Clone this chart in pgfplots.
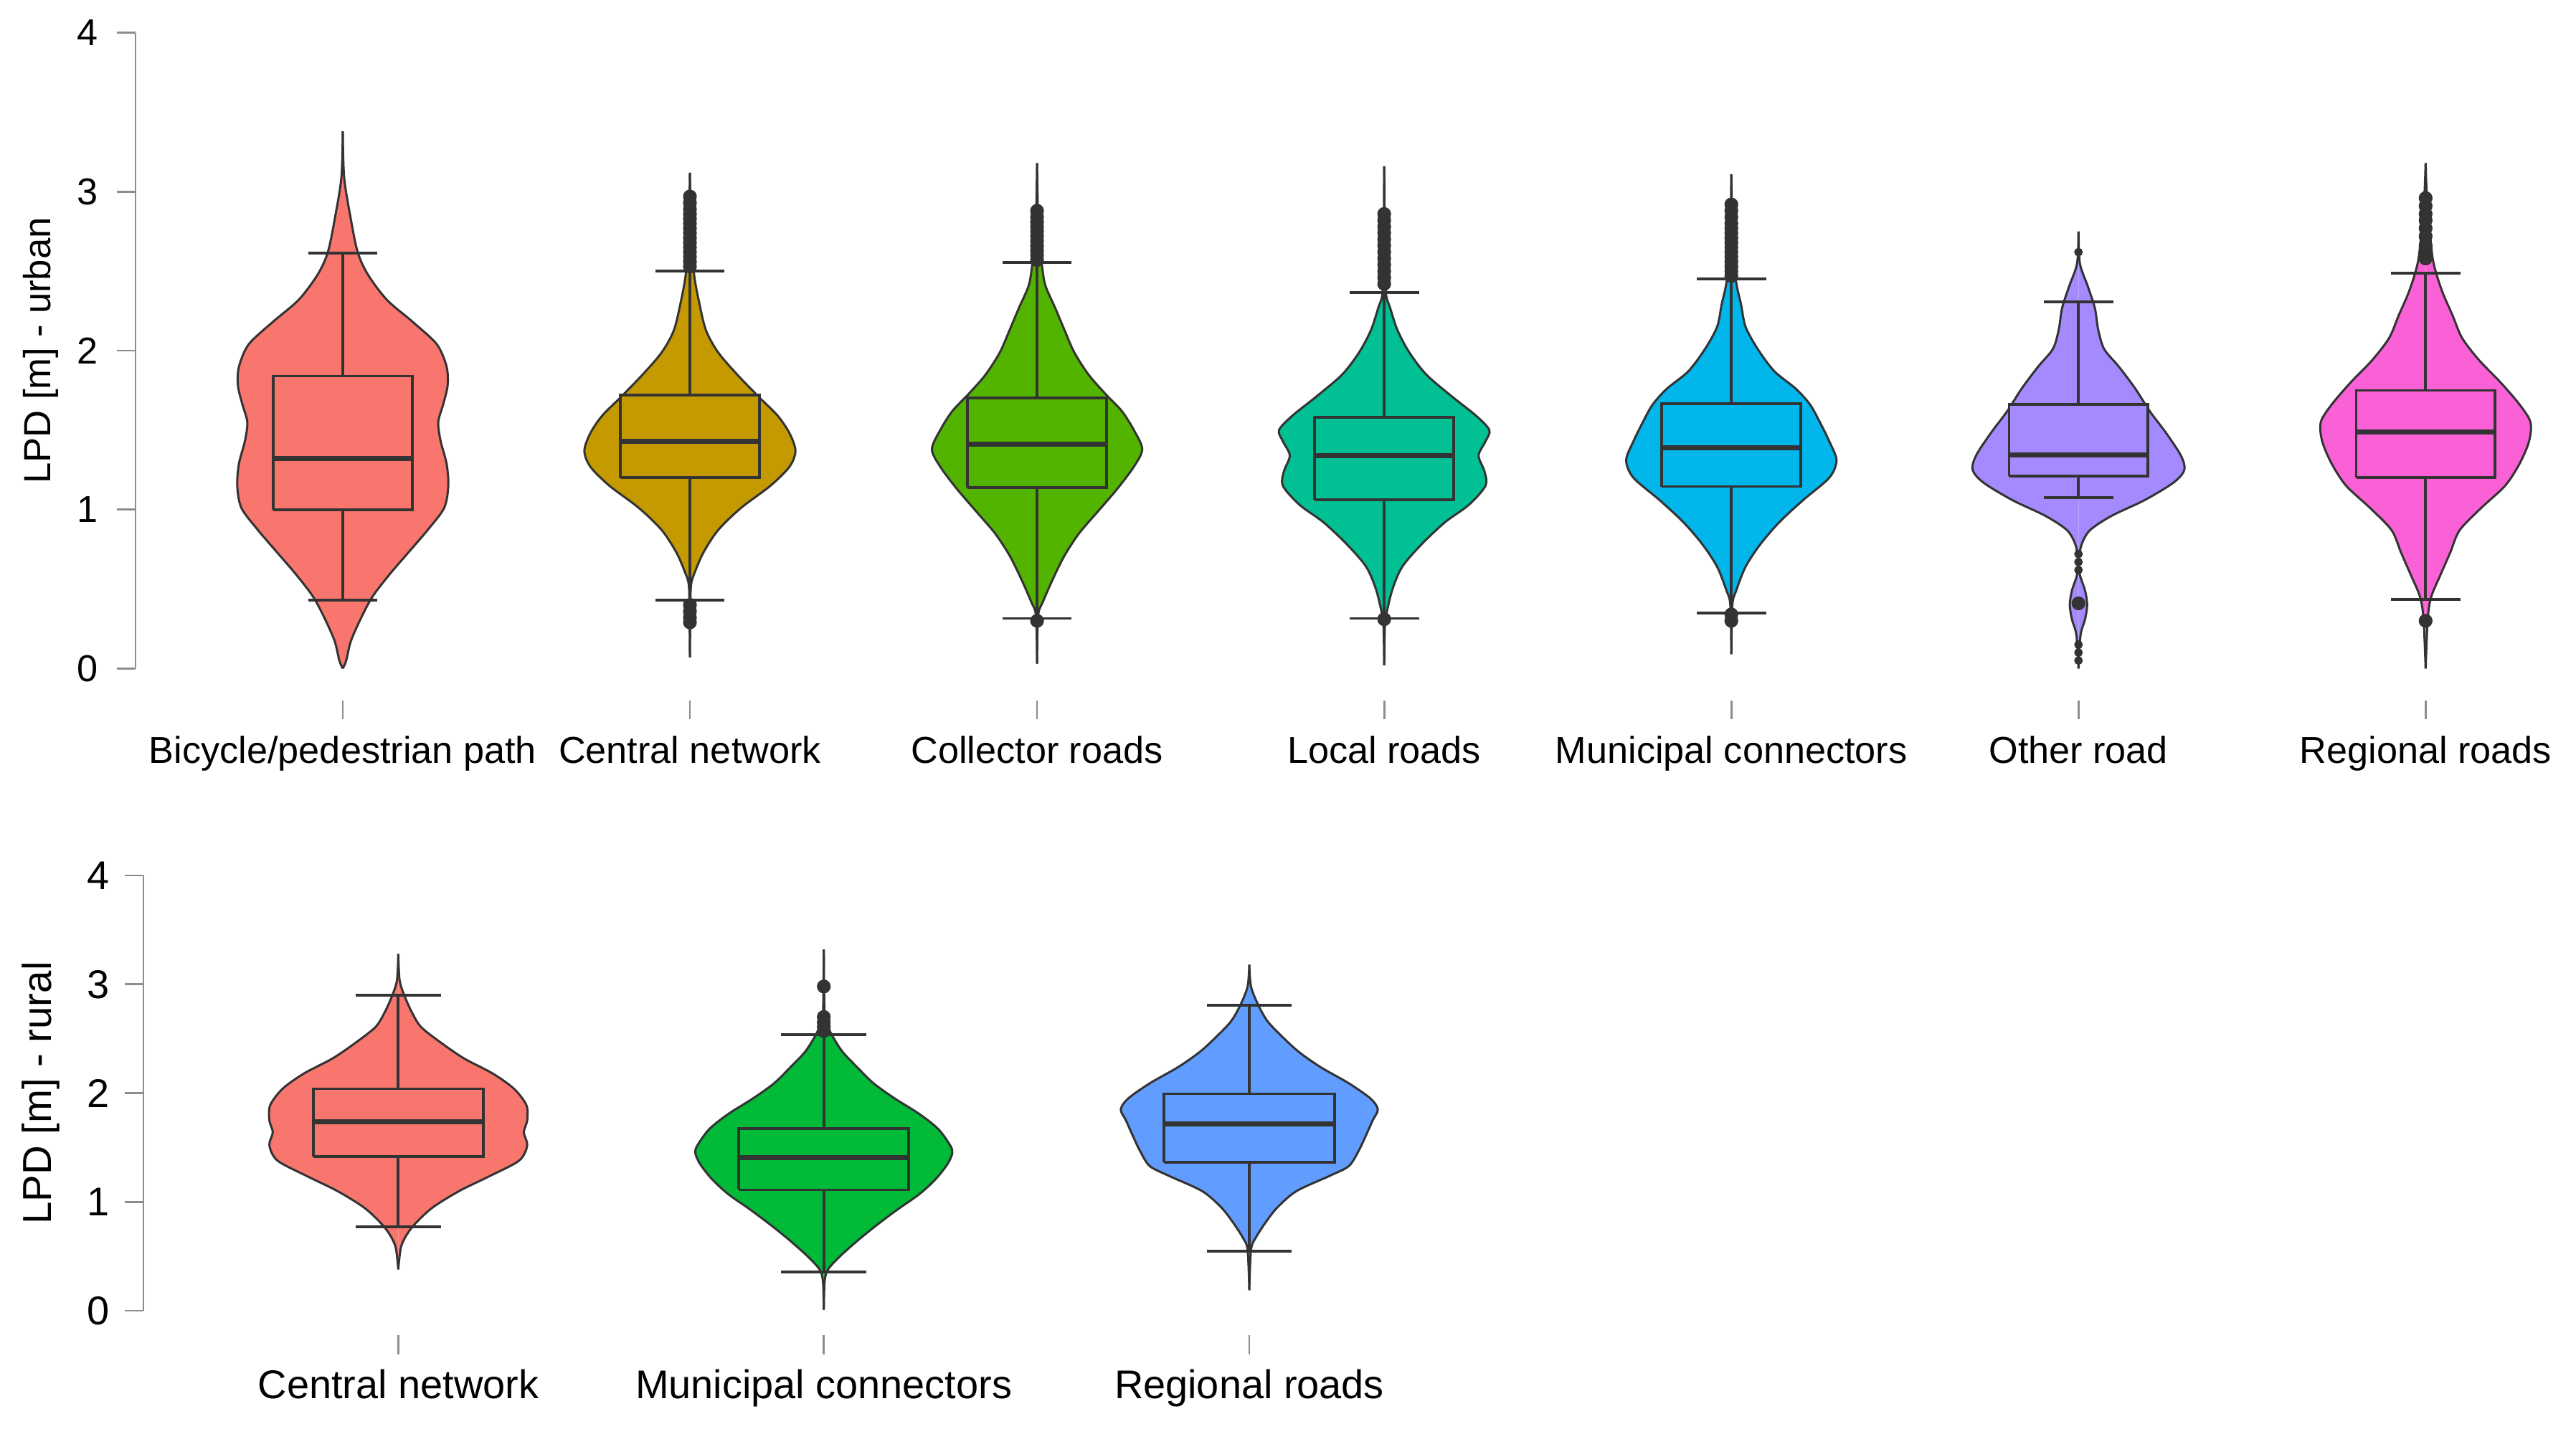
\documentclass[border=0pt]{standalone}
\usepackage{fontspec}
\setmainfont{Liberation Sans}
\usepackage{pgfplots}
\usepackage{pgfplotstable}
\pgfplotsset{compat=1.18}

\definecolor{cA}{HTML}{F8766D}
\definecolor{cB}{HTML}{C49A00}
\definecolor{cC}{HTML}{53B400}
\definecolor{cD}{HTML}{00C094}
\definecolor{cE}{HTML}{00B6EB}
\definecolor{cF}{HTML}{A58AFF}
\definecolor{cG}{HTML}{FB61D7}
\definecolor{cH}{HTML}{F8766D}
\definecolor{cI}{HTML}{00BA38}
\definecolor{cJ}{HTML}{619CFF}
\colorlet{vout}{black!80}
\colorlet{axgray}{black!45}

% violin profiles: v = LPD value, w = half width (in category units)
\pgfplotstableread{
v w
0.00 0
0.05 0.010
0.17 0.023
0.31 0.051
0.45 0.085
0.59 0.134
0.73 0.189
0.87 0.244
1.01 0.292
1.15 0.304
1.29 0.299
1.43 0.282
1.55 0.275
1.66 0.289
1.78 0.302
1.90 0.299
2.04 0.271
2.18 0.202
2.32 0.127
2.48 0.072
2.62 0.043
2.83 0.023
3.09 0.004
3.38 0
}\vA
\pgfplotstableread{
v w
0.07 0
0.30 0.001
0.52 0.003
0.61 0.015
0.73 0.039
0.87 0.081
1.01 0.147
1.15 0.232
1.27 0.287
1.37 0.304
1.48 0.287
1.59 0.253
1.71 0.198
1.85 0.136
1.99 0.081
2.13 0.046
2.32 0.025
2.48 0.012
2.70 0.004
3.12 0
}\vB
\pgfplotstableread{
v w
0.03 0
0.33 0.003
0.42 0.017
0.56 0.045
0.71 0.079
0.85 0.121
0.99 0.176
1.13 0.231
1.27 0.279
1.38 0.303
1.50 0.279
1.62 0.244
1.73 0.196
1.85 0.148
1.99 0.107
2.13 0.079
2.27 0.052
2.41 0.024
2.54 0.014
2.75 0.004
3.18 0
}\vC
\pgfplotstableread{
v w
0.02 0
0.26 0.002
0.35 0.007
0.50 0.024
0.64 0.052
0.78 0.107
0.92 0.175
1.03 0.244
1.15 0.292
1.24 0.289
1.34 0.272
1.43 0.292
1.50 0.303
1.59 0.265
1.71 0.196
1.85 0.121
1.99 0.072
2.13 0.038
2.27 0.017
2.36 0.005
2.60 0.002
3.16 0
}\vD
\pgfplotstableread{
v w
0.09 0
0.40 0.003
0.49 0.014
0.64 0.041
0.78 0.083
0.92 0.138
1.06 0.207
1.20 0.282
1.31 0.303
1.43 0.282
1.55 0.255
1.66 0.227
1.76 0.186
1.87 0.124
2.01 0.076
2.15 0.041
2.29 0.028
2.43 0.014
2.65 0.004
3.11 0
}\vE
\pgfplotstableread{
v w
0.00 0
0.21 0.006
0.31 0.019
0.40 0.025
0.49 0.019
0.59 0.004
0.68 0.001
0.78 0.009
0.87 0.033
0.96 0.095
1.06 0.191
1.17 0.274
1.25 0.305
1.34 0.295
1.48 0.253
1.62 0.205
1.76 0.164
1.90 0.116
2.01 0.074
2.13 0.057
2.27 0.047
2.41 0.026
2.55 0.004
2.75 0
}\vF
\pgfplotstableread{
v w
0.00 0
0.31 0.006
0.45 0.016
0.59 0.043
0.73 0.071
0.87 0.098
1.01 0.160
1.15 0.229
1.29 0.271
1.43 0.298
1.55 0.302
1.66 0.271
1.80 0.216
1.94 0.154
2.08 0.105
2.22 0.078
2.36 0.050
2.49 0.030
2.60 0.019
2.83 0.009
3.00 0.003
3.18 0
}\vG
\pgfplotstableread{
v w
0.38 0
0.58 0.006
0.70 0.020
0.81 0.042
0.95 0.081
1.10 0.143
1.24 0.216
1.38 0.284
1.52 0.303
1.64 0.295
1.75 0.303
1.89 0.301
2.04 0.272
2.18 0.222
2.32 0.154
2.47 0.098
2.61 0.053
2.75 0.031
2.90 0.014
3.04 0.003
3.28 0
}\vH
\pgfplotstableread{
v w
0.01 0
0.27 0.002
0.38 0.010
0.50 0.038
0.64 0.078
0.78 0.122
0.93 0.173
1.07 0.224
1.21 0.263
1.35 0.291
1.45 0.302
1.52 0.297
1.67 0.269
1.81 0.224
1.95 0.167
2.09 0.117
2.24 0.078
2.38 0.044
2.52 0.021
2.61 0.010
2.72 0.002
3.32 0
}\vI
\pgfplotstableread{
v w
0.19 0
0.56 0.004
0.67 0.015
0.81 0.038
0.95 0.066
1.10 0.111
1.24 0.189
1.33 0.234
1.47 0.257
1.61 0.274
1.75 0.290
1.85 0.302
1.95 0.285
2.09 0.234
2.24 0.167
2.38 0.116
2.52 0.077
2.66 0.043
2.81 0.021
2.98 0.004
3.18 0
}\vJ

% #1 profile table, #2 position, #3 colour
\newcommand{\violin}[3]{%
  \addplot[fill=#3, draw=none, smooth] table[x expr={#2+\thisrow{w}}, y=v] {#1};
  \addplot[fill=#3, draw=none, smooth] table[x expr={#2-\thisrow{w}}, y=v] {#1};
  \addplot[vout, line width=0.65pt, smooth] table[x expr={#2+\thisrow{w}}, y=v] {#1};
  \addplot[vout, line width=0.65pt, smooth] table[x expr={#2-\thisrow{w}}, y=v] {#1};
}
% #1 position, #2 colour, #3 lower whisker, #4 lower quartile, #5 median, #6 upper quartile, #7 upper whisker
\newcommand{\bx}[7]{%
  \addplot[vout, line width=0.85pt] table[x expr={#1+\thisrow{dx}}, y=y, row sep=\\] {dx y\\ 0 #3\\ 0 #7\\};
  \addplot[fill=#2, draw=vout, line width=0.85pt] table[x expr={#1+\thisrow{dx}}, y=y, row sep=\\] {dx y\\ -0.2 #4\\ 0.2 #4\\ 0.2 #6\\ -0.2 #6\\ -0.2 #4\\};
  \addplot[vout, line width=1.5pt] table[x expr={#1+\thisrow{dx}}, y=y, row sep=\\] {dx y\\ -0.2 #5\\ 0.2 #5\\};
  \addplot[vout, line width=0.85pt] table[x expr={#1+\thisrow{dx}}, y=y, row sep=\\] {dx y\\ -0.1 #3\\ 0.1 #3\\};
  \addplot[vout, line width=0.85pt] table[x expr={#1+\thisrow{dx}}, y=y, row sep=\\] {dx y\\ -0.1 #7\\ 0.1 #7\\};
}

\pgfplotsset{
  violinaxis/.style={
    enlargelimits=false, clip=false,
    axis x line*=bottom, axis y line*=left,
    x axis line style={draw=none}, y axis line style={draw=none},
    tick align=outside, major tick length=5.7pt,
    tick style={axgray, line width=0.6pt},
    ytick={0,1,2,3,4},
    /pgf/number format/assume math mode=true,
  },
  outl/.style={only marks, mark=*, mark size=1.9pt, vout},
  outs/.style={only marks, mark=*, mark size=1.1pt, vout},
}

\begin{document}
\begin{tikzpicture}
\path[use as bounding box] (0,0) rectangle (784pt,435pt);

% ---------- urban ----------
\begin{axis}[violinaxis,
  at={(41.25pt,221.75pt)}, anchor=south west,
  x=105.65pt, y=48.375pt,
  xmin=-0.597, xmax=6.45, ymin=-0.2016, ymax=4,
  xtick={0,1,2,3,4,5,6},
  xticklabels={Bicycle/pedestrian path, Central network, Collector roads, Local roads, Municipal connectors, Other road, Regional roads},
  tick label style={font=\fontsize{11.4}{13}\selectfont},
  xticklabel style={yshift=-1.5pt},
  yticklabel style={xshift=-2.3pt},
  ylabel={LPD [m] - urban},
  ylabel style={at={(axis description cs:0,0.524)}, anchor=center, yshift=28.75pt, font=\fontsize{11.5}{13}\selectfont},
]
\addplot[axgray, line width=0.6pt] coordinates {(-0.597,0) (-0.597,4)};

\violin{\vA}{0}{cA}
\bx{0}{cA}{0.43}{1.00}{1.32}{1.84}{2.615}

\violin{\vB}{1}{cB}
\bx{1}{cB}{0.43}{1.20}{1.43}{1.72}{2.50}
\addplot[outl] coordinates {(1,2.53) (1,2.56) (1,2.59) (1,2.62) (1,2.65) (1,2.68) (1,2.71) (1,2.74) (1,2.77) (1,2.80) (1,2.83) (1,2.86) (1,2.89) (1,2.93) (1,2.97) (1,0.40) (1,0.36) (1,0.32) (1,0.29)};

\violin{\vC}{2}{cC}
\bx{2}{cC}{0.315}{1.137}{1.41}{1.703}{2.554}
\addplot[outl] coordinates {(2,2.57) (2,2.60) (2,2.63) (2,2.66) (2,2.69) (2,2.72) (2,2.75) (2,2.78) (2,2.81) (2,2.84) (2,2.88) (2,0.30)};

\violin{\vD}{3}{cD}
\bx{3}{cD}{0.315}{1.062}{1.34}{1.58}{2.365}
\addplot[outl] coordinates {(3,2.42) (3,2.46) (3,2.50) (3,2.54) (3,2.58) (3,2.62) (3,2.66) (3,2.70) (3,2.74) (3,2.78) (3,2.82) (3,2.86) (3,0.31)};

\violin{\vE}{4}{cE}
\bx{4}{cE}{0.35}{1.145}{1.39}{1.668}{2.45}
\addplot[outl] coordinates {(4,2.47) (4,2.50) (4,2.53) (4,2.56) (4,2.59) (4,2.62) (4,2.65) (4,2.68) (4,2.71) (4,2.74) (4,2.77) (4,2.80) (4,2.84) (4,2.88) (4,2.92) (4,0.34) (4,0.30)};

\violin{\vF}{5}{cF}
\bx{5}{cF}{1.075}{1.21}{1.342}{1.663}{2.305}
\addplot[outl] coordinates {(5,0.41)};
\addplot[outs] coordinates {(5,2.62) (5,0.05) (5,0.10) (5,0.15) (5,0.62) (5,0.67) (5,0.72)};

\violin{\vG}{6}{cG}
\bx{6}{cG}{0.435}{1.20}{1.488}{1.75}{2.486}
\addplot[outl] coordinates {(6,2.58) (6,2.62) (6,2.66) (6,2.72) (6,2.77) (6,2.82) (6,2.86) (6,2.91) (6,2.96) (6,0.30)};
\end{axis}

% ---------- rural ----------
\begin{axis}[violinaxis,
  at={(43.65pt,28.5pt)}, anchor=south west,
  x=129.5pt, y=33.125pt,
  xmin=-0.599, xmax=2.6, ymin=-0.226, ymax=4,
  xtick={0,1,2},
  xticklabels={Central network, Municipal connectors, Regional roads},
  tick label style={font=\fontsize{12.2}{14}\selectfont},
  xticklabel style={yshift=-1.2pt},
  yticklabel style={xshift=-1.2pt},
  ylabel={LPD [m] - rural},
  ylabel style={at={(axis description cs:0,0.5267)}, anchor=center, yshift=31.15pt, font=\fontsize{12.3}{14}\selectfont},
]
\addplot[axgray, line width=0.6pt] coordinates {(-0.599,0) (-0.599,4)};

\violin{\vH}{0}{cH}
\bx{0}{cH}{0.77}{1.42}{1.737}{2.04}{2.898}

\violin{\vI}{1}{cI}
\bx{1}{cI}{0.356}{1.111}{1.41}{1.672}{2.536}
\addplot[outl] coordinates {(1,2.98) (1,2.57) (1,2.61) (1,2.65) (1,2.70)};

\violin{\vJ}{2}{cJ}
\bx{2}{cJ}{0.546}{1.367}{1.718}{1.994}{2.806}
\end{axis}
\end{tikzpicture}
\end{document}
